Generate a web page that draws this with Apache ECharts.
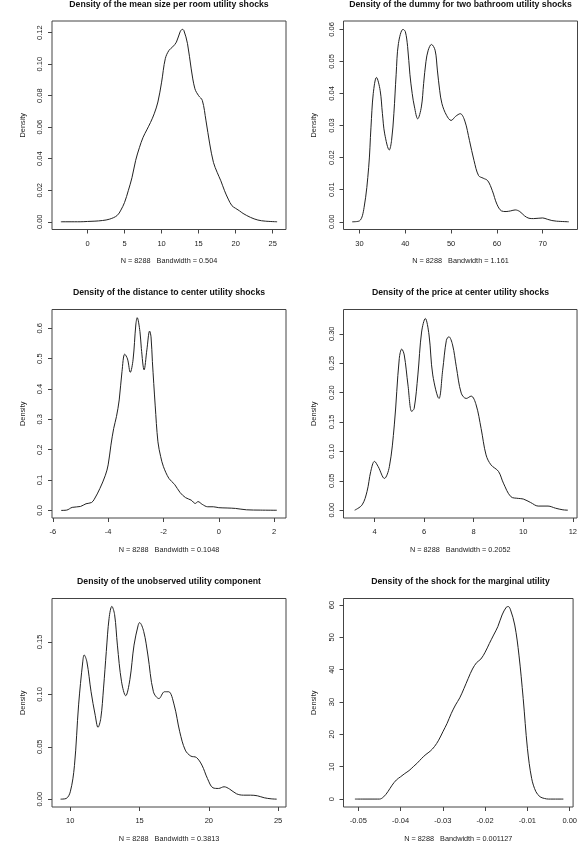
<!DOCTYPE html>
<html>
<head>
<meta charset="utf-8">
<title>Density plots</title>
<script src="https://cdn.jsdelivr.net/npm/echarts@6/dist/echarts.min.js"></script>
<style>
  html, body { margin: 0; padding: 0; background: #fff; }
  #chart { width: 580px; height: 854px; }
</style>
</head>
<body>
<div id="chart"></div>
<script>
// panel titles and the bandwidth text under each x axis
const titles = [
  'Density of the mean size per room utility shocks',
  'Density of the dummy for two bathroom utility shocks',
  'Density of the distance to center utility shocks',
  'Density of the price at center utility shocks',
  'Density of the unobserved utility component',
  'Density of the shock for the marginal utility'
];
const bandwidths = ['0.504', '1.161', '0.1048', '0.2052', '0.3813', '0.001127'];
const sampleSize = 8288;

// 1. mean size per room
const roomX = [-3.6, -1, 0, 1, 2, 3, 4, 4.5, 5, 5.5, 6, 6.5, 7, 7.5, 8, 8.5, 9, 9.5, 10, 10.5, 11, 11.5, 12, 12.5, 12.8, 13, 13.5, 14, 14.5, 15, 15.5, 16, 16.5, 17, 17.5, 18, 18.5, 19, 19.5, 20, 20.5, 21, 22, 23, 24, 25.6];
const roomY = [0, 0, 0.0002, 0.0004, 0.0008, 0.0017, 0.0040, 0.0074, 0.0123, 0.0197, 0.028, 0.039, 0.047, 0.0536, 0.0583, 0.063, 0.0685, 0.076, 0.0886, 0.1035, 0.1088, 0.111, 0.114, 0.1205, 0.1221, 0.1215, 0.113, 0.097, 0.0844, 0.080, 0.077, 0.064, 0.0494, 0.0377, 0.0314, 0.026, 0.0197, 0.0144, 0.0102, 0.0085, 0.007, 0.0053, 0.0028, 0.0011, 0.0004, 0];

// 2. dummy for two bathrooms
const bathX = [28.4, 30, 31, 32, 32.5, 33, 33.7, 34.5, 35, 35.5, 36.5, 37, 37.5, 38, 38.5, 39.5, 40, 40.5, 41, 41.5, 42, 42.7, 43.5, 44, 44.5, 45, 45.7, 46.5, 47, 47.5, 48, 49, 50, 51, 52, 53, 54, 55, 56, 57, 58, 59, 60, 61, 62, 63, 64, 65, 66, 67, 68, 69, 70, 71, 72, 73, 75.7];
const bathY = [0, 0.0003, 0.0045, 0.017, 0.0295, 0.040, 0.045, 0.041, 0.0337, 0.0274, 0.0224, 0.0254, 0.0337, 0.046, 0.0556, 0.060, 0.0593, 0.0546, 0.046, 0.040, 0.0358, 0.0321, 0.0358, 0.0431, 0.0499, 0.0535, 0.0553, 0.0535, 0.0473, 0.041, 0.0368, 0.0332, 0.0316, 0.0329, 0.0337, 0.0314, 0.0254, 0.0191, 0.0144, 0.0136, 0.0128, 0.0097, 0.0055, 0.0034, 0.0032, 0.0034, 0.0037, 0.0032, 0.0019, 0.0011, 0.001, 0.0011, 0.0012, 0.0008, 0.0004, 0.0002, 0];

// 3. distance to center
const distX = [-5.7, -5.5, -5.3, -5.0, -4.8, -4.6, -4.5, -4.3, -4.1, -4.0, -3.9, -3.8, -3.7, -3.6, -3.5, -3.4, -3.3, -3.2, -3.1, -3.0, -2.95, -2.85, -2.8, -2.7, -2.6, -2.5, -2.45, -2.4, -2.3, -2.2, -2.1, -2.0, -1.8, -1.6, -1.4, -1.2, -1.0, -0.85, -0.75, -0.6, -0.4, -0.2, 0, 0.3, 0.6, 1.0, 1.5, 2.1];
const distY = [0, 0.001, 0.01, 0.013, 0.022, 0.026, 0.037, 0.072, 0.116, 0.15, 0.215, 0.27, 0.309, 0.364, 0.457, 0.515, 0.499, 0.455, 0.496, 0.611, 0.635, 0.589, 0.534, 0.463, 0.529, 0.591, 0.572, 0.49, 0.347, 0.226, 0.177, 0.144, 0.105, 0.086, 0.059, 0.042, 0.034, 0.023, 0.029, 0.02, 0.012, 0.012, 0.009, 0.008, 0.0066, 0.002, 0.001, 0.0005];

// 4. price at center
const priceX = [3.2, 3.5, 3.7, 3.85, 4.0, 4.15, 4.4, 4.6, 4.8, 5.0, 5.1, 5.2, 5.35, 5.5, 5.6, 5.75, 5.9, 6.05, 6.2, 6.35, 6.6, 6.75, 6.9, 7.0, 7.15, 7.3, 7.5, 7.7, 7.9, 8.1, 8.3, 8.5, 8.7, 9.0, 9.2, 9.5, 9.8, 10.0, 10.3, 10.6, 11.0, 11.3, 11.6, 11.8];
const priceY = [0, 0.009, 0.032, 0.066, 0.083, 0.074, 0.054, 0.074, 0.145, 0.258, 0.274, 0.264, 0.213, 0.168, 0.173, 0.23, 0.303, 0.326, 0.298, 0.23, 0.19, 0.238, 0.289, 0.295, 0.281, 0.244, 0.199, 0.19, 0.194, 0.179, 0.139, 0.094, 0.077, 0.066, 0.046, 0.023, 0.02, 0.019, 0.013, 0.007, 0.007, 0.0034, 0.0006, 0];

// 5. unobserved utility component
const unobsX = [9.3, 9.7, 10.0, 10.3, 10.6, 10.9, 11.0, 11.2, 11.5, 11.8, 12.0, 12.2, 12.4, 12.6, 12.8, 13.0, 13.2, 13.4, 13.7, 14.0, 14.3, 14.6, 14.9, 15.0, 15.3, 15.6, 16.0, 16.4, 16.8, 17.1, 17.5, 17.9, 18.3, 18.7, 19.1, 19.5, 19.9, 20.3, 20.7, 21.1, 21.5, 22.0, 22.5, 23.0, 23.5, 24.0, 24.5, 24.9];
const unobsY = [0, 0.0006, 0.007, 0.032, 0.09, 0.131, 0.1376, 0.131, 0.1025, 0.08, 0.0685, 0.077, 0.106, 0.141, 0.1726, 0.184, 0.176, 0.147, 0.112, 0.0987, 0.114, 0.147, 0.166, 0.1685, 0.16, 0.1376, 0.1025, 0.096, 0.1025, 0.1025, 0.0898, 0.0643, 0.0468, 0.0411, 0.0398, 0.0325, 0.0197, 0.0108, 0.0102, 0.0118, 0.0096, 0.0051, 0.0038, 0.0038, 0.0032, 0.0013, 0.0003, 0];

// 6. shock for the marginal utility
const margX = [-0.0508, -0.045, -0.044, -0.043, -0.042, -0.041, -0.040, -0.039, -0.038, -0.037, -0.036, -0.035, -0.034, -0.033, -0.032, -0.031, -0.030, -0.029, -0.028, -0.027, -0.026, -0.025, -0.024, -0.023, -0.022, -0.021, -0.020, -0.019, -0.018, -0.017, -0.016, -0.015, -0.0145, -0.014, -0.013, -0.012, -0.011, -0.010, -0.009, -0.008, -0.007, -0.006, -0.005, -0.0015];
const margY = [0, 0, 0.7, 2.3, 4.3, 5.9, 6.9, 7.9, 8.8, 10, 11.2, 12.6, 13.8, 14.8, 16.2, 18.2, 20.8, 23.4, 26.5, 29.1, 31.3, 34.2, 37.3, 40.2, 42.2, 43.3, 45.4, 48.1, 50.7, 53.3, 56.9, 59.3, 59.5, 58.5, 53.8, 44.5, 31.1, 15.7, 6.4, 2.3, 0.7, 0.2, 0, 0];

// tick marks on each axis
const xTicks = [
  [0, 5, 10, 15, 20, 25],
  [30, 40, 50, 60, 70],
  [-6, -4, -2, 0, 2],
  [4, 6, 8, 10, 12],
  [10, 15, 20, 25],
  [-0.05, -0.04, -0.03, -0.02, -0.01, 0]
];
const yTicks = [
  [0, 0.02, 0.04, 0.06, 0.08, 0.10, 0.12],
  [0, 0.01, 0.02, 0.03, 0.04, 0.05, 0.06],
  [0, 0.1, 0.2, 0.3, 0.4, 0.5, 0.6],
  [0, 0.05, 0.10, 0.15, 0.20, 0.25, 0.30],
  [0, 0.05, 0.10, 0.15],
  [0, 10, 20, 30, 40, 50, 60]
];
const xDecimals = [0, 0, 0, 0, 0, 2];
const yDecimals = [2, 2, 1, 2, 2, 0];
// axis ranges (R pads the data range by 4%)
const xRanges = [[-4.8, 26.8], [26.5, 77.6], [-6.03, 2.43], [2.75, 12.17], [8.68, 25.57], [-0.0535, 0.0008]];
const yRanges = [[-0.0049, 0.1274], [-0.0024, 0.0626], [-0.025, 0.662], [-0.0133, 0.3413], [-0.0075, 0.1915], [-2.45, 62]];

const curves = [[roomX, roomY], [bathX, bathY], [distX, distY], [priceX, priceY], [unobsX, unobsY], [margX, margY]];

const FONT = 'Liberation Sans';
const colLeft = [52, 343.5];
const rowTop = [21, 309.5, 598.5];
const boxW = 234, boxH = 208.5;

let chart = echarts.init(document.getElementById('chart'), null, { renderer: 'canvas' });

let grids = [], xAxes = [], yAxes = [], series = [], titleList = [];
for (let i = 0; i < 6; i++) {
  let left = colLeft[i % 2];
  let top = rowTop[Math.floor(i / 2)];
  grids.push({
    left: left, top: top, width: boxW, height: boxH,
    show: true, borderColor: '#444', borderWidth: 1, backgroundColor: 'transparent'
  });
  titleList.push({
    text: titles[i],
    left: left + boxW / 2,
    top: top - 21,
    textAlign: 'center',
    padding: 0,
    textStyle: { fontFamily: FONT, fontWeight: 'bold', fontSize: 8.7, color: '#111' }
  });
  xAxes.push({
    type: 'value', gridIndex: i, position: 'bottom',
    min: xRanges[i][0], max: xRanges[i][1],
    name: 'N = ' + sampleSize + '   Bandwidth = ' + bandwidths[i],
    nameLocation: 'middle', nameGap: 28,
    nameTextStyle: { fontFamily: FONT, fontSize: 7.3, color: '#222' },
    axisLine: { show: false, onZero: false },
    splitLine: { show: false },
    axisTick: { show: true, inside: false, length: 4, customValues: xTicks[i], lineStyle: { color: '#444' } },
    axisLabel: {
      customValues: xTicks[i], margin: 10,
      fontFamily: FONT, fontSize: 7.5, color: '#222',
      formatter: (v) => Number(v).toFixed(xDecimals[i])
    }
  });
  yAxes.push({
    type: 'value', gridIndex: i, position: 'left',
    min: yRanges[i][0], max: yRanges[i][1],
    name: 'Density',
    nameLocation: 'middle', nameGap: 26, nameRotate: 90,
    nameTextStyle: { fontFamily: FONT, fontSize: 7.3, color: '#222' },
    axisLine: { show: false, onZero: false },
    splitLine: { show: false },
    axisTick: { show: true, inside: false, length: 4, customValues: yTicks[i], lineStyle: { color: '#444' } },
    axisLabel: {
      customValues: yTicks[i], margin: 8, rotate: 90,
      fontFamily: FONT, fontSize: 7.5, color: '#222',
      formatter: (v) => Number(v).toFixed(yDecimals[i])
    }
  });
  let xs = curves[i][0], ys = curves[i][1];
  series.push({
    type: 'line', xAxisIndex: i, yAxisIndex: i,
    data: xs.map((x, k) => [x, ys[k]]),
    showSymbol: false, smooth: 0.35,
    lineStyle: { color: '#222', width: 1 },
    silent: true, animation: false
  });
}

let option = {
  animation: false,
  backgroundColor: '#fff',
  title: titleList,
  grid: grids,
  xAxis: xAxes,
  yAxis: yAxes,
  series: series
};

chart.setOption(option);
</script>
</body>
</html>
